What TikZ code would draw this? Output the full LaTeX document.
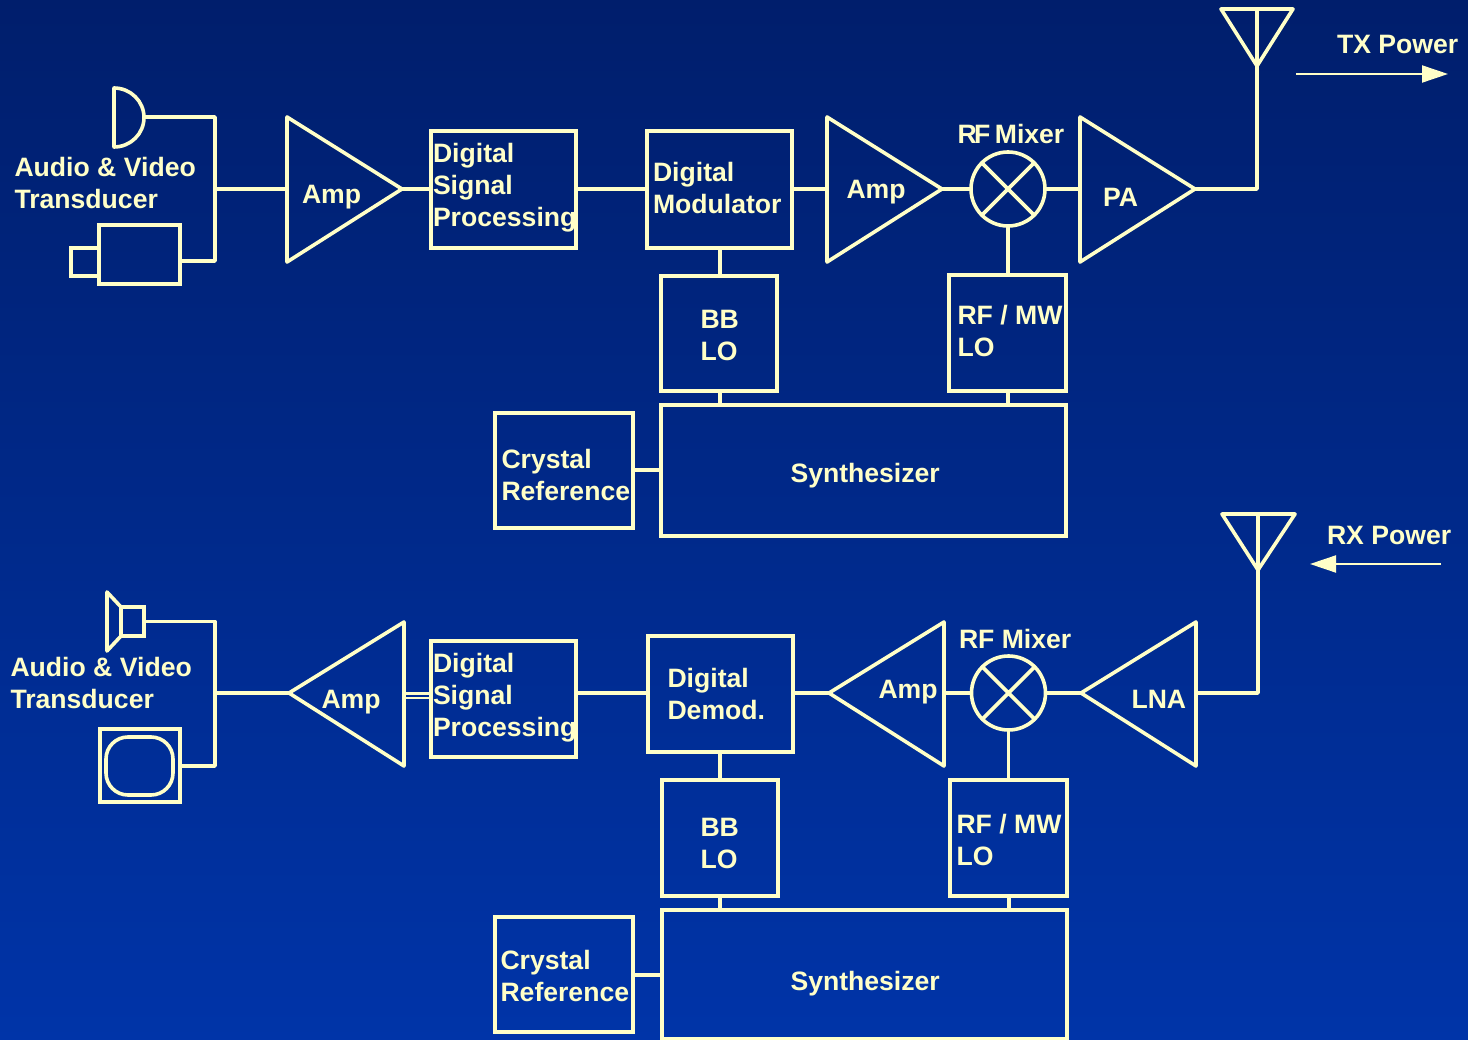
\documentclass[tikz,border=0pt]{standalone}
\usepackage{fontspec}
\setmainfont{Liberation Sans}
\usetikzlibrary{arrows.meta}
\definecolor{cream}{HTML}{FFFFC8}
\definecolor{bgtop}{HTML}{001E6C}
\definecolor{bgbot}{HTML}{0034A8}
\tikzset{
  wire/.style={draw=cream,line width=3.4pt,line join=miter,line cap=butt},
  trunk/.style={draw=cream,line width=4.4pt,line cap=butt},
  outl/.style={draw=cream,line width=3.6pt,line join=round,line cap=round},
  blk/.style={draw=cream,line width=3.6pt,rectangle,inner sep=0pt,outer sep=0pt},
  mixer/.style={draw=cream,line width=3.6pt,circle,minimum size=74pt,inner sep=0pt,outer sep=0pt},
  lbl/.style={text=cream,font=\fontsize{26.6}{32}\selectfont\bfseries,align=left,anchor=west,inner sep=0pt,outer sep=0pt},
  pwr/.style={draw=cream,line width=2pt,-{Triangle[length=26pt,width=17pt,fill=cream]}},
}
\newcommand{\bx}[5]{\node[blk,minimum width={#4-#2},minimum height={#5-#3}] (#1) at ({(#2+#4)/2},{(#3+#5)/2}) {};}
\begin{document}
\begin{tikzpicture}[x=1pt,y=-1pt]
\useasboundingbox (0,0) rectangle (1468,1040);
\shade[top color=bgtop,bottom color=bgbot] (0,0) rectangle (1468,1040);
% ===== Transmit chain =====
\draw[outl] (114,147) arc[start angle=90,end angle=-90,x radius=30,y radius=29.5] -- cycle;
\coordinate (micout) at (144,117);
\bx{cam}{99}{225}{180}{284}
\bx{lens}{71}{248}{99}{276}
\coordinate (tjoin) at (215,189);
\draw[wire,line join=round] (micout) -- (215,117) -- (215,261) -- (cam.east |- 0,261);
\coordinate (a1t) at (287,117);\coordinate (a1b) at (287,262);\coordinate (a1o) at (402,189);
\draw[outl] (a1t) -- (a1o) -- (a1b) -- cycle;
\draw[trunk] (tjoin) -- (a1b |- tjoin);
\bx{dsp}{431}{131}{576}{248}
\draw[wire] (a1o) -- (dsp.west |- a1o);
\bx{mod}{647}{131}{792}{248}
\draw[wire] (dsp.east |- a1o) -- (mod.west |- a1o);
\coordinate (a2t) at (827,117);\coordinate (a2b) at (827,262);\coordinate (a2o) at (942,189);
\draw[outl] (a2t) -- (a2o) -- (a2b) -- cycle;
\draw[wire] (mod.east |- a2o) -- (a2b |- a2o);
\node[mixer] (mx) at (1008,189) {};
\draw[outl] (mx.north west) -- (mx.south east) (mx.north east) -- (mx.south west);
\draw[wire] (a2o) -- (mx.west);
\coordinate (pat) at (1080,117);\coordinate (pab) at (1080,262);\coordinate (pao) at (1195,189);
\draw[outl] (pat) -- (pao) -- (pab) -- cycle;
\draw[wire] (mx.east) -- (pat |- pao);
\coordinate (antl) at (1221,9);\coordinate (antr) at (1293,9);\coordinate (antb) at (1257,66);
\draw[outl] (antl) -- (antr) -- (antb) -- cycle;
\draw[wire,line join=round] (pao) -- (antb |- pao) -- (antl -| antb);
\coordinate (txs) at (1296,74);\coordinate (txe) at (1448,74);
\draw[pwr] (txs) -- (txe);
\bx{bb}{661}{276}{777}{391}
\bx{rf}{949}{275}{1066}{391}
\bx{syn}{661}{405}{1066}{536}
\bx{xt}{495}{413}{633}{528}
\draw[wire] (720,248) -- (720,276);
\draw[wire] (mx.south) -- (rf.north -| mx.south);
\draw[wire] (720,391) -- (720,405);
\draw[wire] (1008,391) -- (1008,405);
\draw[wire] (xt.east |- 0,470) -- (syn.west |- 0,470);
% ===== Receive chain =====
\bx{spk}{121}{607}{144}{636}
\draw[outl] (121,607) -- (107,592) -- (107,651) -- (121,636);
\bx{tv}{100}{729}{180}{802}
\node[blk,rounded corners=22pt,minimum width=67,minimum height=58] (scr) at (139.5,766) {};
\coordinate (rjoin) at (215,693);
\draw[wire,line join=round] (spk.east) -- (215,621.5) -- (215,766) -- (tv.east |- 0,766);
\coordinate (a3t) at (404,622);\coordinate (a3b) at (404,766);\coordinate (a3o) at (289,693);
\draw[outl] (a3t) -- (a3o) -- (a3b) -- cycle;
\draw[trunk] (rjoin) -- (a3o);
\bx{dspr}{431}{641}{576}{757}
\draw[draw=cream,line width=2.4pt] (a3t |- 0,693.5) -- (dspr.west |- 0,693.5);
\draw[draw=cream,line width=2.4pt] (a3t |- 0,698) -- (dspr.west |- 0,698);
\bx{dem}{648}{636}{793}{752}
\draw[wire] (dspr.east |- rjoin) -- (dem.west |- rjoin);
\coordinate (a4t) at (944,622);\coordinate (a4b) at (944,766);\coordinate (a4o) at (829,693);
\draw[outl] (a4t) -- (a4o) -- (a4b) -- cycle;
\draw[wire] (dem.east |- a4o) -- (a4o);
\node[mixer] (mr) at (1008.5,693) {};
\draw[outl] (mr.north west) -- (mr.south east) (mr.north east) -- (mr.south west);
\draw[wire] (a4t |- a4o) -- (mr.west);
\coordinate (lnt) at (1196,622);\coordinate (lnb) at (1196,766);\coordinate (lno) at (1081,693);
\draw[outl] (lnt) -- (lno) -- (lnb) -- cycle;
\draw[wire] (mr.east) -- (lno);
\coordinate (arl) at (1222,514);\coordinate (arr) at (1295,514);\coordinate (arb) at (1258,570);
\draw[outl] (arl) -- (arr) -- (arb) -- cycle;
\draw[wire,line join=round] (lnt |- lno) -- (arb |- lno) -- (arl -| arb);
\coordinate (rxs) at (1441,564);\coordinate (rxe) at (1310,564);
\draw[pwr] (rxs) -- (rxe);
\bx{bbr}{662}{780}{778}{896}
\bx{rfr}{950}{780}{1067}{896}
\bx{synr}{662}{910}{1067}{1039}
\bx{xtr}{495}{917}{633}{1032}
\draw[wire] (720,752) -- (720,780);
\draw[wire] (mr.south) -- (rfr.north -| mr.south);
\draw[wire] (720,896) -- (720,910);
\draw[wire] (1009,896) -- (1009,910);
\draw[wire] (xtr.east |- 0,975) -- (synr.west |- 0,975);
% ===== Labels =====
\node[lbl] (t1) at (14.5,183) {Audio \& Video\\Transducer};
\node[lbl] (t2) at (302,197) {Amp};
\node[lbl] (t3) at (433,188) {Digital\\Signal\\Processing};
\node[lbl] (t4) at (653,188) {Digital\\Modulator};
\node[lbl] (t5) at (846.5,192) {Amp};
\node[lbl] (t6) at (957.5,134) {R\kern-2.5pt F\kern-3pt\ Mixer};
\node[lbl] (t7) at (1103,197) {PA};
\node[lbl] (t8) at (1337,44) {TX Power};
\node[lbl] (t9) at (700.5,335) {BB\\LO};
\node[lbl] (t10) at (957.5,331) {RF / MW\\LO};
\node[lbl] (t11) at (501.5,475) {Crystal\\Reference};
\node[lbl] (t12) at (790.5,476) {Synthesizer};
\node[lbl] (r1) at (10.5,683) {Audio \& Video\\Transducer};
\node[lbl] (r2) at (321.5,702) {Amp};
\node[lbl] (r3) at (433,698) {Digital\\Signal\\Processing};
\node[lbl] (r4) at (667.5,694) {Digital\\Demod.};
\node[lbl] (r5) at (878.5,692) {Amp};
\node[lbl] (r6) at (959,639) {RF Mixer};
\node[lbl] (r7) at (1131.5,699) {LNA};
\node[lbl] (r8) at (1327,535) {RX Power};
\node[lbl] (r9) at (700.5,843) {BB\\LO};
\node[lbl] (r10) at (956.5,840) {RF / MW\\LO};
\node[lbl] (r11) at (500.5,976) {Crystal\\Reference};
\node[lbl] (r12) at (790.5,984) {Synthesizer};
\end{tikzpicture}
\end{document}
